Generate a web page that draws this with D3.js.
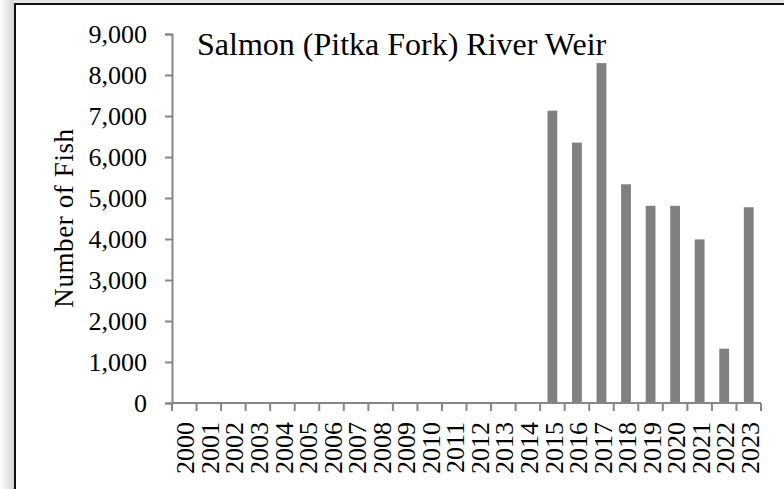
<!DOCTYPE html>
<html>
<head>
<meta charset="utf-8">
<script src="https://cdn.jsdelivr.net/npm/d3@7"></script>
<style>
  body { margin: 0; background: #fff; }
  svg text { font-family: "Liberation Serif", "Times New Roman", serif; fill: #000; }
</style>
</head>
<body>
<script>
// chart values
var years = ["2000","2001","2002","2003","2004","2005","2006","2007","2008","2009","2010","2011",
             "2012","2013","2014","2015","2016","2017","2018","2019","2020","2021","2022","2023"];
var fishCounts = [null,null,null,null,null,null,null,null,null,null,null,null,
                  null,null,null,7130,6350,8290,5335,4810,4810,3990,1325,4775];
var yTicks = [0,1000,2000,3000,4000,5000,6000,7000,8000,9000];

var width = 784,
    height = 489,
    plotLeft = 172,
    plotRight = 761,
    plotTop = 34,
    plotBottom = 403;

var x = d3.scaleBand().domain(years).range([plotLeft, plotRight]).paddingInner(0.6).paddingOuter(0.3),
    xCat = d3.scaleBand().domain(years).range([plotLeft, plotRight]),
    y = d3.scaleLinear().domain([0, 9000]).range([plotBottom, plotTop]);

var figure = d3.select("body")
    .append("svg")
        .attr("width", width)
        .attr("height", height);

// soft shadow on the left of the frame
var grad = figure.append("defs").append("linearGradient")
    .attr("id", "shade").attr("x1", 0).attr("x2", 1);
grad.append("stop").attr("offset", 0).attr("stop-color", "#fff");
grad.append("stop").attr("offset", 1).attr("stop-color", "#d4d4d4");
figure.append("rect")
    .attr("x", 0).attr("y", 0).attr("width", 14).attr("height", height)
    .attr("fill", "url(#shade)");
figure.append("rect")
    .attr("x", 14).attr("y", 0).attr("width", width).attr("height", 3)
    .attr("fill", "#e6e6e6");

// frame
figure.append("rect")
    .attr("x", 15).attr("y", 4)
    .attr("width", width + 20).attr("height", height + 20)
    .attr("fill", "#fff")
    .attr("stroke", "#111")
    .attr("stroke-width", 2);

// bars
figure.append("g")
    .selectAll("rect")
    .data(years.map(function(d, i) { return { year: d, value: fishCounts[i] }; })
        .filter(function(d) { return d.value != null; }))
    .enter()
    .append("rect")
    .attr("x", function(d) { return x(d.year); })
    .attr("width", x.bandwidth())
    .attr("y", function(d) { return y(d.value); })
    .attr("height", function(d) { return plotBottom - y(d.value); })
    .attr("fill", "#808080");

// y axis
var yAxis = figure.append("g")
    .attr("transform", "translate(" + plotLeft + ",0)")
    .call(d3.axisLeft(y)
        .tickValues(yTicks)
        .tickFormat(d3.format(","))
        .tickSize(7)
        .tickSizeOuter(7)
        .tickPadding(18));
yAxis.selectAll("line, path").attr("stroke", "#868686").attr("stroke-width", 2);
yAxis.selectAll("text").attr("font-size", 26).attr("font-family", "Liberation Serif");

// x axis, ticks on category boundaries
var xAxis = figure.append("g")
    .attr("transform", "translate(0," + plotBottom + ")");
xAxis.append("line")
    .attr("x1", plotLeft).attr("x2", plotRight)
    .attr("stroke", "#868686").attr("stroke-width", 2);
xAxis.selectAll(".tick")
    .data(years.concat(["end"]))
    .enter()
    .append("line")
    .attr("x1", function(d, i) { return i < years.length ? xCat(d) : plotRight; })
    .attr("x2", function(d, i) { return i < years.length ? xCat(d) : plotRight; })
    .attr("y1", 0).attr("y2", 8)
    .attr("stroke", "#868686").attr("stroke-width", 2);
xAxis.selectAll("text")
    .data(years)
    .enter()
    .append("text")
    .attr("transform", function(d) {
        return "translate(" + (xCat(d) + xCat.bandwidth() / 2 + 1) + ",19) rotate(-90)"; })
    .attr("text-anchor", "end")
    .attr("dy", "0.35em")
    .attr("font-size", 26)
    .text(function(d) { return d; });

// y axis title
figure.append("text")
    .attr("transform", "translate(73,218) rotate(-90)")
    .attr("text-anchor", "middle")
    .attr("font-size", 27)
    .attr("letter-spacing", 0.6)
    .text("Number of Fish");

// chart title
figure.append("text")
    .attr("x", 197).attr("y", 55)
    .attr("font-size", 32)
    .text("Salmon (Pitka Fork) River Weir");
</script>
</body>
</html>
